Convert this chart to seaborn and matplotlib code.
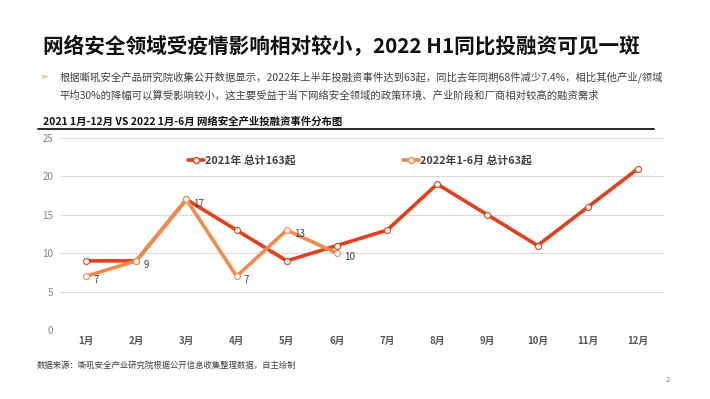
import matplotlib
matplotlib.use("Agg")
import matplotlib.pyplot as plt
import seaborn as sns
import pandas as pd
from matplotlib.lines import Line2D

months = ["1月", "2月", "3月", "4月", "5月", "6月", "7月", "8月", "9月", "10月", "11月", "12月"]
y2021 = [9, 9, 17, 13, 9, 11, 13, 19, 15, 11, 16, 21]
y2022 = [7, 9, 17, 7, 13, 10]
name2021 = "2021年 总计163起"
name2022 = "2022年1-6月 总计63起"
yticks = [0, 5, 10, 15, 20, 25]

title = "网络安全领域受疫情影响相对较小，2022 H1同比投融资可见一斑"
bullet1 = "根据嘶吼安全产品研究院收集公开数据显示，2022年上半年投融资事件达到63起，同比去年同期68件减少7.4%，相比其他产业/领域"
bullet2 = "平均30%的降幅可以算受影响较小，这主要受益于当下网络安全领域的政策环境、产业阶段和厂商相对较高的融资需求"
subtitle = "2021 1月-12月 VS 2022 1月-6月 网络安全产业投融资事件分布图"
source = "数据来源：嘶吼安全产业研究院根据公开信息收集整理数据，自主绘制"

sns.set_style("white")
plt.rcParams["font.family"] = ["Noto Sans CJK SC", "DejaVu Sans"]

c21 = "#E2401C"
c22 = "#F08B4C"

df21 = pd.DataFrame({"x": range(len(y2021)), "y": y2021})
df22 = pd.DataFrame({"x": range(len(y2022)), "y": y2022})

fig = plt.figure(figsize=(7.1, 3.99), dpi=100)
ax = fig.add_axes([60 / 710, 1 - 330 / 399, 604 / 710, 192 / 399])

lw = 2.6
ms = 4.3
sns.lineplot(data=df21, x="x", y="y", ax=ax, color=c21, lw=lw, marker="o",
             markersize=ms, markerfacecolor="white", markeredgecolor=c21,
             markeredgewidth=0.8, zorder=3)
sns.lineplot(data=df22, x="x", y="y", ax=ax, color=c22, lw=lw, marker="o",
             markersize=ms, markerfacecolor="white", markeredgecolor=c22,
             markeredgewidth=0.8, zorder=4)

for i, v in enumerate(y2022):
    ax.annotate(str(v), (i, v), xytext=(5, -3), textcoords="offset points",
                fontsize=7, color="#404040", va="center", ha="left", zorder=5)

ax.set_xlim(-0.52, 11.52)
ax.set_ylim(0, 25)
ax.set_yticks(yticks)
ax.set_xticks(range(len(months)))
ax.set_xticklabels(months, fontsize=7, color="#595959", fontweight="bold")
ax.tick_params(axis="y", labelsize=7, labelcolor="#7f7f7f", length=0, pad=5)
ax.tick_params(axis="x", length=0, pad=4)
ax.set_xlabel("")
ax.set_ylabel("")
ax.grid(axis="y", color="#d9d9d9", lw=0.8)
for s in ax.spines.values():
    s.set_visible(False)

# legend entries
h21 = Line2D([0], [0], color=c21, lw=lw, marker="o", markersize=ms,
             markerfacecolor="white", markeredgecolor=c21)
h22 = Line2D([0], [0], color=c22, lw=lw, marker="o", markersize=ms,
             markerfacecolor="white", markeredgecolor=c22)
legkw = dict(frameon=False, handlelength=1.5, handletextpad=0.1, borderpad=0,
             borderaxespad=0, prop={"weight": "bold", "size": 7.8})
leg1 = ax.legend([h21], [name2021], loc="center left",
                 bbox_to_anchor=((188 - 60) / 604, 0.885), **legkw)
for t in leg1.get_texts():
    t.set_color("#404040")
ax.add_artist(leg1)
leg2 = ax.legend([h22], [name2022], loc="center left",
                 bbox_to_anchor=((403 - 60) / 604, 0.885), **legkw)
for t in leg2.get_texts():
    t.set_color("#404040")

# texts
fig.text(43 / 710, 1 - 47 / 399, title, fontsize=14.9, fontweight="bold",
         color="#111111", va="center", ha="left")
fig.text(40 / 710, 1 - 77 / 399, "➢", fontsize=8, color="#F0A030",
         va="center", ha="left", family=["DejaVu Sans"])
fig.text(60 / 710, 1 - 77 / 399, bullet1, fontsize=7.45, color="#404040",
         va="center", ha="left")
fig.text(60 / 710, 1 - 96 / 399, bullet2, fontsize=7.45, color="#404040",
         va="center", ha="left")
fig.text(43 / 710, 1 - 122 / 399, subtitle, fontsize=7.5, fontweight="bold",
         color="#111111", va="center", ha="left")
fig.add_artist(Line2D([38 / 710, 654 / 710], [1 - 129 / 399, 1 - 129 / 399],
                      transform=fig.transFigure, color="black", lw=1.2))
fig.text(37 / 710, 1 - 365 / 399, source, fontsize=6, color="#404040",
         va="center", ha="left")
fig.text(668 / 710, 1 - 380 / 399, "2", fontsize=5.5, color="#7f7f7f",
         va="center", ha="center")

fig.savefig("out.png", dpi=100)
